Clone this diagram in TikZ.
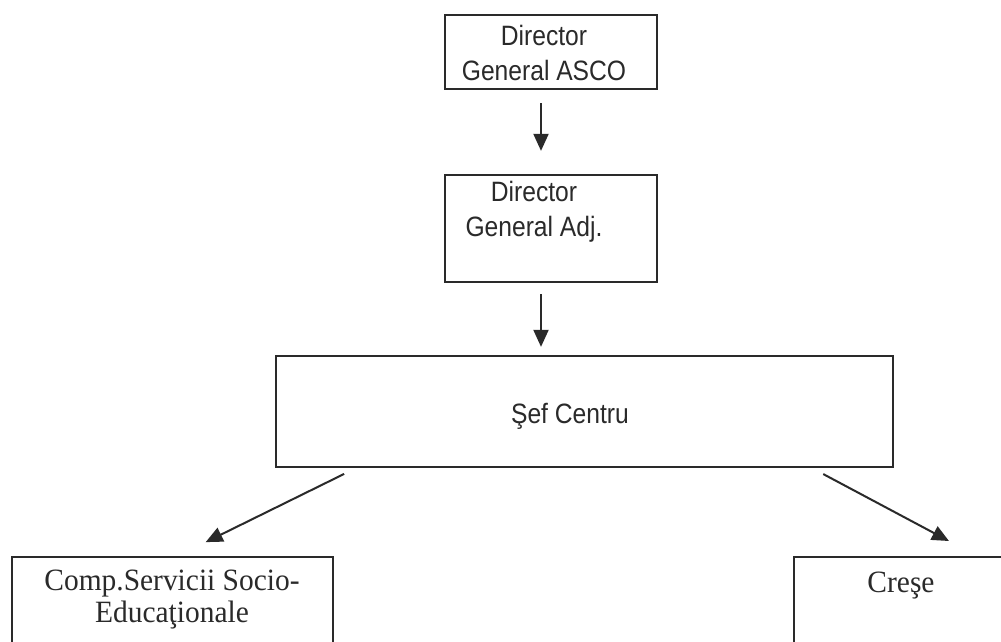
\documentclass[tikz,border=0pt]{standalone}
\usepackage{fontspec}
\usetikzlibrary{arrows.meta}
\newfontfamily\arialf[FakeStretch=0.88]{Liberation Sans}
\newfontfamily\timesf[FakeStretch=0.95]{Liberation Serif}
\definecolor{ink}{HTML}{2A2A2A}
\tikzset{
  box/.style={draw=ink, line width=2.3pt, fill=white, inner sep=0pt},
  sanslbl/.style={font=\arialf\fontsize{28}{35}\selectfont, text=ink, align=center, inner sep=0pt},
  seriflbl/.style={font=\timesf\fontsize{31}{32}\selectfont, text=ink, align=center, inner sep=0pt},
  arr/.style={draw=ink, line width=2pt, -{Triangle[length=17pt,width=15pt]}}
}
\begin{document}
\begin{tikzpicture}[x=1pt,y=-1pt]
\useasboundingbox (0,0) rectangle (1001,642);
\clip (0,0) rectangle (1001,642);
\fill[white] (0,0) rectangle (1001,642);
% boxes
\node[box, minimum width=212pt, minimum height=74pt] (b1) at (551,52) {};
\node[box, minimum width=212pt, minimum height=107pt] (b2) at (551,228.5) {};
\node[box, minimum width=617pt, minimum height=111pt] (b3) at (584.5,411.5) {};
\node[box, minimum width=321pt, minimum height=143pt] (b4) at (172.5,628.5) {};
\node[box, minimum width=216pt, minimum height=143pt] (b5) at (902,628.5) {};
% texts
\node[sanslbl] (t1) at (544,52.5) {Director\\General ASCO};
\node[sanslbl] (t2) at (534,212) {Director\\General Adj.};
\node[sanslbl, anchor=base] (t3) at (570,423) {Şef Centru};
\node[seriflbl] (t4) at (172,600) {Comp.Servicii Socio-\\Educaţionale};
\node[seriflbl, anchor=base] (t5) at (901,592) {Creşe};
% connectors
\draw[arr, shorten <=13pt, shorten >=23pt] ([xshift=-10pt]b1.south) -- ([xshift=-10pt]b2.north);
\draw[arr, shorten <=11pt, shorten >=8pt] ([xshift=-10pt]b2.south) -- ([xshift=-43.5pt]b3.north);
\draw[arr, shorten <=13pt, shorten >=31pt] ([xshift=81pt]b3.south west) -- ([xshift=167pt]b4.north west);
\draw[arr, shorten <=12.6pt, shorten >=31.6pt] ([xshift=-82pt]b3.south east) -- ([xshift=184pt]b5.north west);
\end{tikzpicture}
\end{document}
